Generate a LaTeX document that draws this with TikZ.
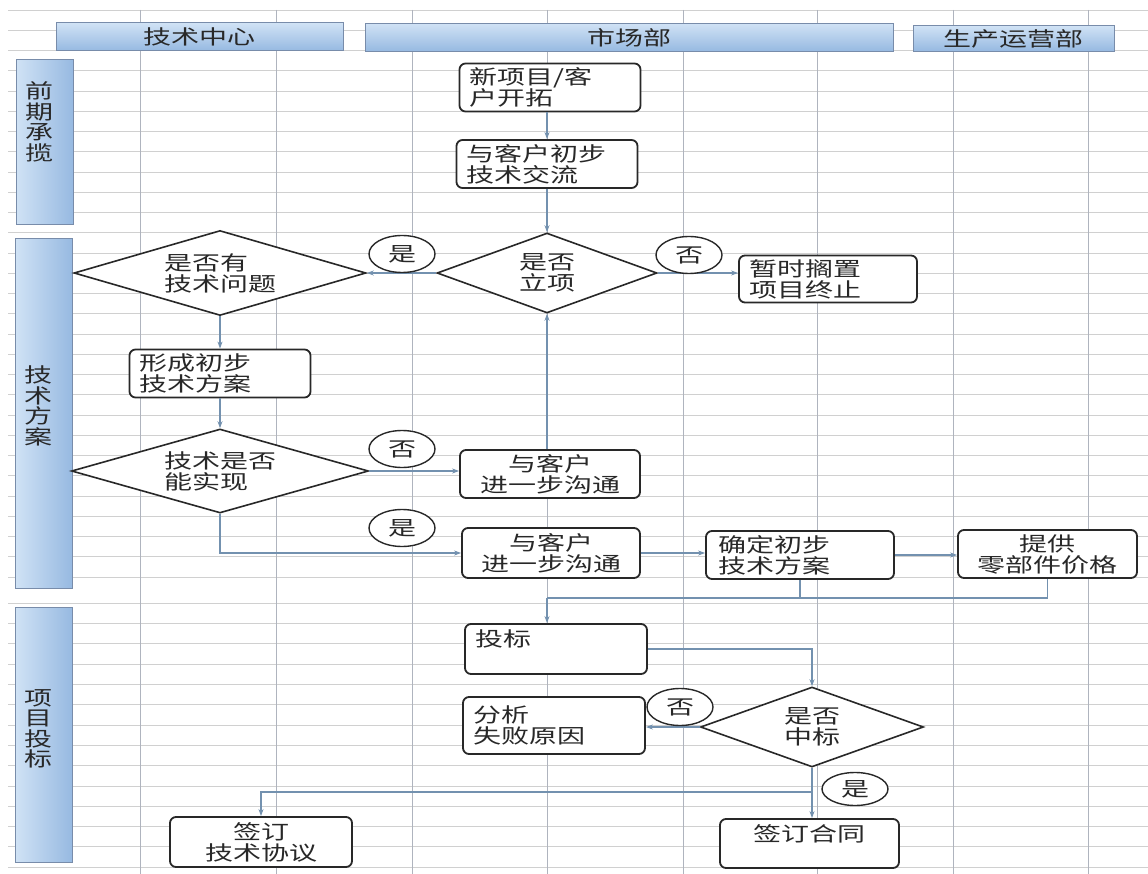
\documentclass[tikz,border=0pt]{standalone}
\usepackage{fontspec}
\setmainfont{Noto Sans CJK SC}[FakeStretch=1.4]
\usetikzlibrary{shapes.geometric,arrows.meta}
\definecolor{gridh}{RGB}{208,208,208}
\definecolor{gridv}{RGB}{175,180,190}
\definecolor{barlo}{RGB}{150,185,225}
\definecolor{barhi}{RGB}{208,226,245}
\definecolor{barln}{RGB}{120,140,170}
\definecolor{linkc}{RGB}{115,145,175}
\definecolor{ink}{RGB}{40,40,40}
\begin{document}
\begin{tikzpicture}[x=1pt,y=-1pt,font=\fontsize{20}{21}\selectfont,text=ink,
main/.style={draw=ink,line width=1.8pt,rounded corners=6pt,fill=white,minimum width=181pt,minimum height=48pt,inner xsep=10pt,text width=161pt,align=left},
mid/.style={main,align=center},
dec/.style={draw=ink,line width=1.6pt,diamond,aspect=3,fill=white,inner sep=0pt,align=left},
lab/.style={draw=ink,line width=1.4pt,ellipse,fill=white,minimum width=66pt,minimum height=37pt,inner sep=0pt},
side/.style={draw=barln,line width=1pt,left color=barhi,right color=barlo,minimum width=57pt},
head/.style={draw=barln,line width=1pt,top color=barhi,bottom color=barlo,minimum height=28pt},
conn/.style={draw=linkc,line width=1.2pt,-{Stealth[length=7pt,width=5pt]}},
link/.style={draw=linkc,line width=1.2pt}]
\useasboundingbox (0,0) rectangle (1148,874);
\fill[white] (0,0) rectangle (1148,874);
\draw[gridh] (8,10) -- (1148,10);
\foreach \k in {0,...,27} \draw[gridh] (8,{30+20.25*\k}) -- (1148,{30+20.25*\k});
\foreach \k in {0,...,13} \draw[gridh] (8,{603+20.3*\k}) -- (1148,{603+20.3*\k});
\foreach \x in {140,276,412,547,683,817,953,1088} \draw[gridv] (\x,10) -- (\x,874);
\node[head,minimum width=287pt] (h1) at (199.5,37) {技术中心};
\node[head,minimum width=528pt] (h2) at (629,37.5) {市场部};
\node[head,minimum width=201pt,minimum height=24pt] (h3) at (1013.5,38.5) {生产运营部};
\node[side,minimum height=165pt] (s1) at (45,142.5) {};
\node[side,minimum height=349pt] (s2) at (44,413.5) {};
\node[side,minimum height=255pt] (s3) at (44,734.5) {};
\node[align=center,font=\fontsize{20}{20.5}\selectfont] (t1) at (39,122) {前\\期\\承\\揽};
\node[align=center,font=\fontsize{20}{20.5}\selectfont] (t2) at (38,406) {技\\术\\方\\案};
\node[align=center,font=\fontsize{20}{20.5}\selectfont] (t3) at (38,729) {项\\目\\投\\标};
\node[main] (1) at (550,87.5) {新项目/客\\户开拓};
\node[main] (2) at (547,164) {与客户初步\\技术交流};
\node[dec,minimum width=220pt,minimum height=80pt,align=center] (3) at (547,273) {是否\\立项};
\node[main,minimum width=178pt,text width=158pt,minimum height=47pt] (4) at (828,279) {暂时搁置\\项目终止};
\node[dec,minimum width=292pt,minimum height=85pt] (5) at (220,273) {是否有\\技术问题};
\node[main] (6) at (220,373.5) {形成初步\\技术方案};
\node[dec,minimum width=297pt,minimum height=84pt] (7) at (220,471) {技术是否\\能实现};
\node[mid,minimum width=180pt,text width=160pt] (8) at (550,474) {与客户\\进一步沟通};
\node[mid,minimum width=178pt,text width=158pt,minimum height=50pt] (9) at (551,553) {与客户\\进一步沟通};
\node[main,minimum width=184pt,text width=164pt,inner xsep=12pt] (10) at (800,555) {确定初步\\技术方案};
\node[mid,minimum width=179pt,text width=159pt] (11) at (1047.5,554) {提供\\零部件价格};
\node[main,minimum width=182pt,text width=162pt,minimum height=50pt] (12) at (556,649) {投标\\\mbox{}};
\node[dec,minimum width=223pt,minimum height=80pt,align=center] (13) at (812,727) {是否\\中标};
\node[main,minimum width=182pt,text width=162pt,minimum height=57pt] (14) at (554,725.5) {分析\\失败原因};
\node[mid,minimum width=179pt,text width=159pt,minimum height=49pt] (15) at (809.5,843.5) {签订合同\\\mbox{}};
\node[mid,minimum width=182pt,text width=162pt,minimum height=50pt] (16) at (261,842) {签订\\技术协议};
\coordinate (m) at (547,598);
\coordinate (f) at (812,792);
\draw[conn] (1.south -| 2.north) -- (2.north);
\draw[conn] (2) -- (3);
\draw[conn] (3.west) -- (5.east);
\draw[conn] (3.east) -- (3.east -| 4.west);
\draw[conn] (5) -- (6);
\draw[conn] (6) -- (7);
\draw[conn] (7.east) -- (7.east -| 8.west);
\draw[conn] (3.south |- 8.north) -- (3.south);
\draw[conn] (7.south) |- (9.west);
\draw[conn] (9.east) -- (9.east -| 10.west);
\draw[conn] (10.east) -- (10.east -| 11.west);
\draw[link] (10.south) |- (m);
\draw[link] (11.south) |- (m);
\draw[conn] (m) -- (m |- 12.north);
\draw[conn] (12.east) -| (13.north);
\draw[conn] (13.west) -- (13.west -| 14.east);
\draw[conn] (13.south) -- (13.south |- 15.north);
\draw[conn] (f) -| (16.north);
\node[lab] (y1) at (402,254) {是};
\node[lab] (n1) at (689,255) {否};
\node[lab] (n2) at (402,449) {否};
\node[lab] (y2) at (402,528) {是};
\node[lab] (n3) at (680,707) {否};
\node[lab,minimum height=33pt] (y3) at (855,789) {是};
\end{tikzpicture}
\end{document}
